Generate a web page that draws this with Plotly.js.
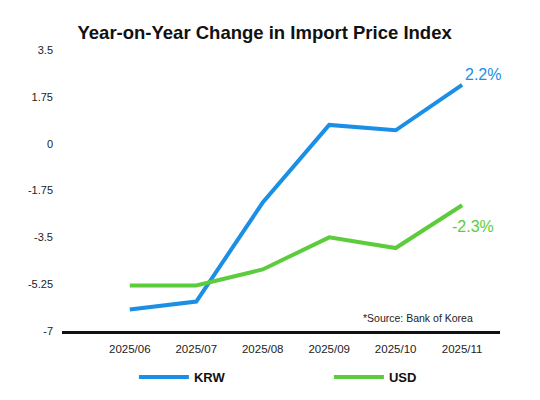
<!DOCTYPE html>
<html>
<head>
<meta charset="utf-8">
<script src="https://cdn.plot.ly/plotly-3.0.1.min.js"></script>
<style>html,body{margin:0;padding:0;background:#fff;}#chart{width:540px;height:400px;}</style>
</head>
<body>
<div id="chart"></div>
<script>
const months = ['2025/06','2025/07','2025/08','2025/09','2025/10','2025/11'];
const krw = [-6.2, -5.9, -2.2, 0.7, 0.5, 2.2];
const usd = [-5.3, -5.3, -4.7, -3.5, -3.9, -2.3];
const seriesNames = ['KRW','USD'];
const endLabels = ['2.2%','-2.3%'];
const yTickVals = [-7, -5.25, -3.5, -1.75, 0, 1.75, 3.5];
const yTickText = ['-7','-5.25','-3.5','-1.75','0','1.75','3.5'];
const titleText = 'Year-on-Year Change in Import Price Index';
const sourceText = '*Source: Bank of Korea';

const blue = '#1b8fe6', green = '#5dcc3c';
const sans = '"Liberation Sans", Arial, sans-serif';

const traces = [
  {x: months, y: krw, name: seriesNames[0], type: 'scatter', mode: 'lines',
   line: {color: blue, width: 4}, hoverinfo: 'skip'},
  {x: months, y: usd, name: seriesNames[1], type: 'scatter', mode: 'lines',
   line: {color: green, width: 4}, hoverinfo: 'skip'}
];

const layout = {
  width: 540, height: 400,
  margin: {l: 62, r: 40, t: 50, b: 69, autoexpand: false},
  paper_bgcolor: '#fff', plot_bgcolor: '#fff',
  title: {text: '<b>' + titleText + '</b>', x: 0.49, xanchor: 'center', y: 0.918, yanchor: 'middle',
          font: {family: sans, size: 18.5, color: '#111'}},
  xaxis: {type: 'category', range: [-1.02, 5.57], showgrid: false, zeroline: false,
          showline: true, linecolor: '#111', linewidth: 2.5, ticks: '',
          tickfont: {family: sans, size: 11.5, color: '#222'},
          ticklabelstandoff: 6},
  yaxis: {range: [-7, 3.5], tickvals: yTickVals, ticktext: yTickText, showgrid: false,
          zeroline: false, showline: false, ticks: '',
          tickfont: {family: sans, size: 11, color: '#222'},
          ticklabelstandoff: 8},
  showlegend: true,
  legend: {orientation: 'h', xref: 'container', yref: 'container',
           x: 0.248, xanchor: 'left', y: 0.0575, yanchor: 'middle',
           entrywidth: 130, entrywidthmode: 'pixels', itemwidth: 50,
           font: {family: sans, size: 13, color: '#111', weight: 'bold'}},
  annotations: [
    {x: months[5], y: krw[5], xref: 'x', yref: 'y', text: endLabels[0], showarrow: false,
     xanchor: 'left', yanchor: 'bottom', xshift: 1, yshift: 0,
     font: {family: sans, size: 16, color: blue}},
    {x: months[5], y: usd[5], xref: 'x', yref: 'y', text: endLabels[1], showarrow: false,
     xanchor: 'center', yanchor: 'top', xshift: 11, yshift: -11,
     font: {family: sans, size: 16, color: green}},
    {x: 0.943, y: 0.046, xref: 'paper', yref: 'paper', text: sourceText, showarrow: false,
     xanchor: 'right', yanchor: 'middle', font: {family: sans, size: 10.5, color: '#222'}}
  ]
};

Plotly.newPlot('chart', traces, layout, {displayModeBar: false, staticPlot: true});
</script>
</body>
</html>
